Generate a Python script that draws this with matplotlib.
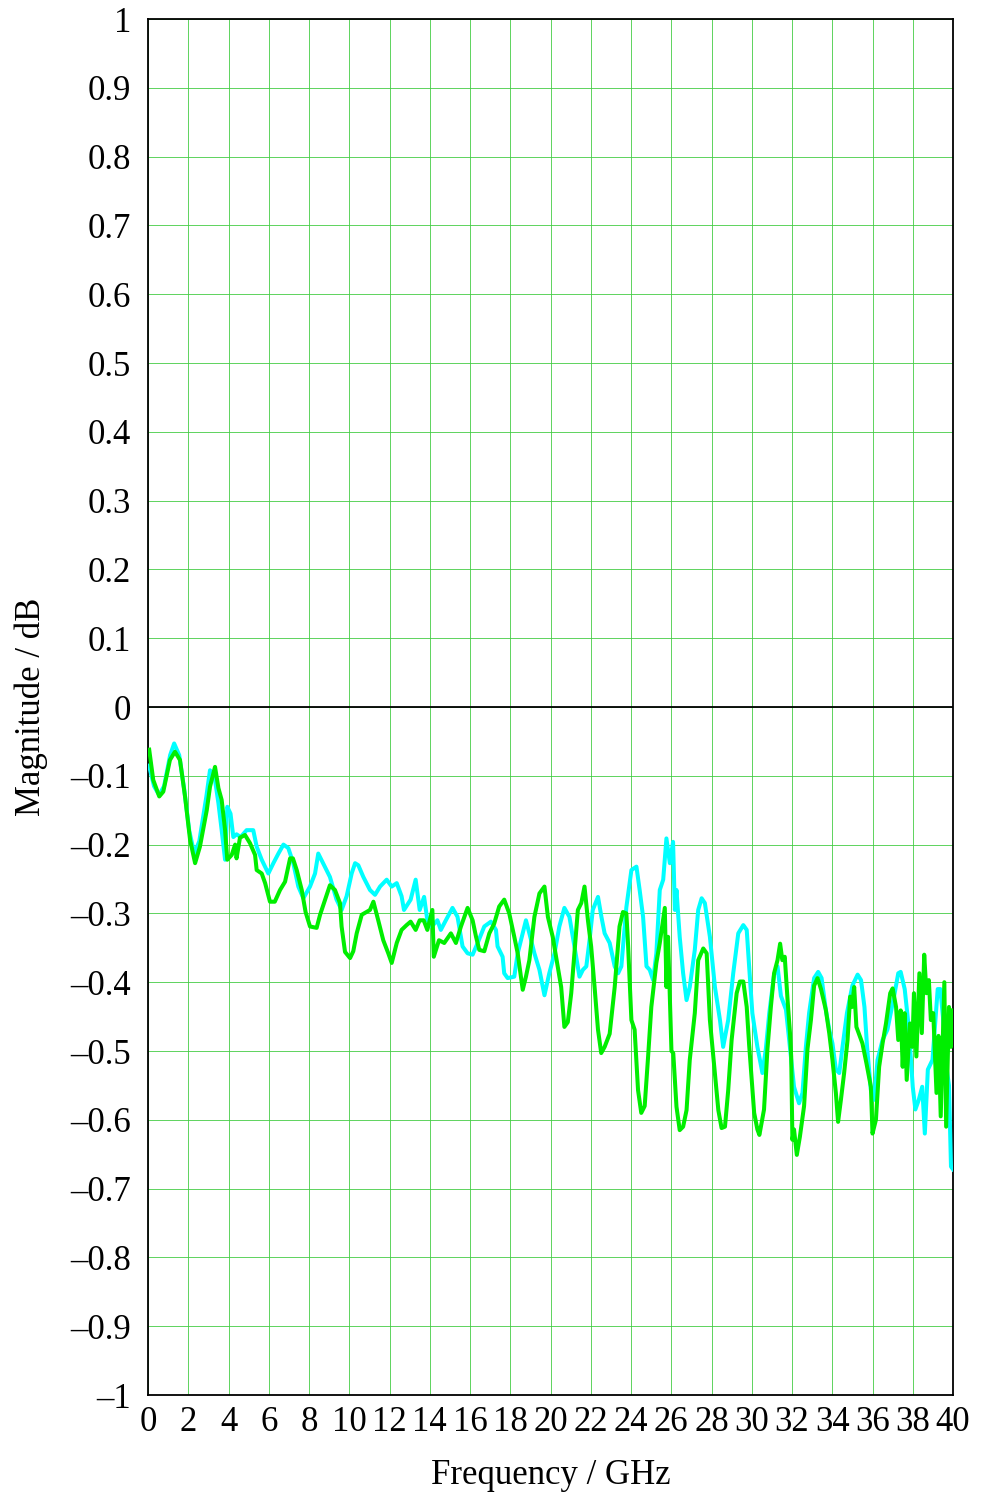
import matplotlib
matplotlib.use("Agg")
import matplotlib.pyplot as plt
import numpy as np

plt.rcParams['font.family'] = ['Liberation Serif', 'DejaVu Serif']

# ---- data ----
cyan_freq = [0.05, 0.3, 0.55, 0.8, 1.1, 1.3, 1.55, 1.8, 2.05, 2.3, 2.55, 2.9, 3.08, 3.3, 3.5, 3.66, 3.83,
             3.94, 4.1, 4.24, 4.4, 4.6, 4.9, 5.23, 5.4, 5.65, 5.98, 6.23, 6.48, 6.73, 6.97, 7.22, 7.47,
             7.72, 8.05, 8.3, 8.46, 8.7, 9.04, 9.37, 9.62, 9.87, 10.12, 10.29, 10.45, 10.7, 11.03, 11.28,
             11.53, 11.86, 12.11, 12.36, 12.6, 12.72, 13.05, 13.3, 13.5, 13.72, 13.88, 14.1, 14.38, 14.55,
             14.8, 15.13, 15.38, 15.63, 15.88, 16.13, 16.38, 16.71, 17.04, 17.29, 17.37, 17.62, 17.7, 17.87,
             18.2, 18.37, 18.62, 18.78, 18.95, 19.2, 19.45, 19.7, 19.94, 20.2, 20.44, 20.69, 20.94, 21.19,
             21.44, 21.61, 21.78, 21.94, 22.1, 22.36, 22.53, 22.69, 22.94, 23.19, 23.36, 23.52, 23.77,
             24.02, 24.27, 24.43, 24.6, 24.77, 24.93, 25.1, 25.26, 25.43, 25.6, 25.76, 25.93, 26.09, 26.18,
             26.26, 26.42, 26.59, 26.76, 26.92, 27.17, 27.34, 27.51, 27.67, 27.92, 28.17, 28.42, 28.58,
             28.83, 29.08, 29.33, 29.58, 29.75, 29.87, 30.03, 30.28, 30.53, 30.7, 30.87, 31.11, 31.28,
             31.45, 31.7, 31.86, 32.1, 32.35, 32.52, 32.69, 32.85, 33.1, 33.3, 33.47, 33.68, 33.85, 34.01,
             34.18, 34.35, 34.51, 34.73, 35.0, 35.26, 35.43, 35.6, 35.73, 35.92, 36.08, 36.25, 36.5, 36.74,
             37.07, 37.28, 37.4, 37.6, 37.8, 38.0, 38.13, 38.3, 38.47, 38.6, 38.75, 38.98, 39.24, 39.37,
             39.5, 39.66, 39.8, 39.9, 40.0]
cyan_vals = [-0.085, -0.115, -0.128, -0.115, -0.07, -0.053, -0.07, -0.12, -0.18, -0.213, -0.195, -0.13, -0.092,
             -0.1, -0.14, -0.179, -0.222, -0.145, -0.155, -0.189, -0.185, -0.189, -0.179, -0.179, -0.203,
             -0.222, -0.242, -0.227, -0.213, -0.2, -0.205, -0.227, -0.261, -0.278, -0.261, -0.242, -0.213,
             -0.227, -0.247, -0.28, -0.295, -0.275, -0.242, -0.227, -0.23, -0.247, -0.266, -0.273, -0.261,
             -0.251, -0.261, -0.256, -0.275, -0.295, -0.28, -0.251, -0.295, -0.276, -0.31, -0.319, -0.31,
             -0.324, -0.31, -0.292, -0.305, -0.348, -0.358, -0.36, -0.343, -0.319, -0.312, -0.324, -0.348,
             -0.363, -0.387, -0.394, -0.392, -0.358, -0.329, -0.31, -0.329, -0.358, -0.382, -0.419, -0.387,
             -0.358, -0.319, -0.292, -0.305, -0.348, -0.392, -0.382, -0.377, -0.339, -0.295, -0.276, -0.305,
             -0.329, -0.343, -0.377, -0.387, -0.377, -0.291, -0.237, -0.232, -0.266, -0.305, -0.377, -0.382,
             -0.397, -0.358, -0.266, -0.251, -0.191, -0.227, -0.196, -0.295, -0.266, -0.334, -0.387, -0.426,
             -0.407, -0.353, -0.295, -0.278, -0.285, -0.334, -0.407, -0.455, -0.494, -0.455, -0.387, -0.329,
             -0.317, -0.324, -0.377, -0.445, -0.494, -0.532, -0.497, -0.445, -0.389, -0.377, -0.42, -0.44,
             -0.484, -0.552, -0.576, -0.561, -0.494, -0.445, -0.394, -0.385, -0.394, -0.44, -0.469, -0.489,
             -0.527, -0.532, -0.494, -0.445, -0.405, -0.389, -0.397, -0.436, -0.494, -0.557, -0.571, -0.513,
             -0.484, -0.469, -0.421, -0.387, -0.385, -0.41, -0.465, -0.552, -0.585, -0.571, -0.552, -0.62,
             -0.527, -0.513, -0.41, -0.41, -0.45, -0.52, -0.55, -0.668, -0.672]

green_freq = [0.06, 0.26, 0.56, 0.76, 1.09, 1.34, 1.59, 1.84, 2.09, 2.34, 2.58, 2.92, 3.08, 3.33, 3.5, 3.66,
              3.83, 3.94, 4.16, 4.33, 4.4, 4.57, 4.82, 5.07, 5.32, 5.4, 5.65, 5.82, 6.06, 6.3, 6.56, 6.81,
              7.06, 7.2, 7.39, 7.64, 7.83, 8.05, 8.38, 8.55, 8.8, 9.04, 9.29, 9.54, 9.62, 9.79, 10.04, 10.2,
              10.37, 10.62, 11.03, 11.2, 11.44, 11.69, 11.94, 12.11, 12.36, 12.6, 12.85, 13.05, 13.3, 13.5,
              13.7, 13.88, 14.13, 14.2, 14.46, 14.72, 15.05, 15.3, 15.55, 15.88, 16.13, 16.3, 16.46, 16.71,
              16.96, 17.2, 17.45, 17.7, 17.95, 18.2, 18.37, 18.53, 18.62, 18.78, 18.95, 19.2, 19.45, 19.7,
              19.87, 20.11, 20.36, 20.53, 20.69, 20.86, 21.03, 21.19, 21.36, 21.53, 21.69, 21.86, 22.02,
              22.19, 22.36, 22.52, 22.69, 22.94, 23.19, 23.43, 23.6, 23.77, 23.85, 24.02, 24.18, 24.35,
              24.51, 24.68, 24.85, 25.01, 25.26, 25.43, 25.68, 25.76, 25.84, 26.01, 26.1, 26.26, 26.42,
              26.59, 26.76, 26.92, 27.17, 27.34, 27.59, 27.76, 27.92, 28.17, 28.34, 28.5, 28.67, 28.83,
              29.0, 29.25, 29.41, 29.58, 29.75, 29.87, 30.12, 30.28, 30.38, 30.61, 30.78, 30.95, 31.11,
              31.28, 31.41, 31.52, 31.64, 31.78, 31.9, 31.96, 32.02, 32.1, 32.24, 32.39, 32.6, 32.77, 32.94,
              33.1, 33.27, 33.44, 33.68, 33.85, 34.01, 34.18, 34.29, 34.43, 34.59, 34.76, 34.89, 34.98,
              35.09, 35.2, 35.5, 35.7, 35.92, 36.0, 36.17, 36.33, 36.5, 36.67, 36.88, 37.0, 37.17, 37.28,
              37.4, 37.5, 37.6, 37.7, 37.86, 37.98, 38.06, 38.18, 38.33, 38.45, 38.57, 38.68, 38.8, 38.9,
              39.02, 39.18, 39.28, 39.39, 39.57, 39.66, 39.8, 39.9, 40.0]
green_vals = [-0.062, -0.106, -0.13, -0.123, -0.077, -0.065, -0.077, -0.13, -0.193, -0.227, -0.203, -0.15,
              -0.116, -0.087, -0.118, -0.135, -0.179, -0.222, -0.215, -0.2, -0.22, -0.19, -0.186, -0.198,
              -0.215, -0.237, -0.242, -0.256, -0.283, -0.283, -0.266, -0.254, -0.22, -0.22, -0.237, -0.266,
              -0.298, -0.319, -0.321, -0.302, -0.28, -0.259, -0.266, -0.285, -0.319, -0.356, -0.365, -0.355,
              -0.329, -0.302, -0.295, -0.283, -0.31, -0.339, -0.358, -0.372, -0.343, -0.324, -0.317, -0.312,
              -0.324, -0.31, -0.31, -0.324, -0.295, -0.363, -0.339, -0.343, -0.329, -0.343, -0.319, -0.292,
              -0.31, -0.334, -0.353, -0.355, -0.329, -0.315, -0.29, -0.28, -0.3, -0.334, -0.358, -0.392,
              -0.411, -0.392, -0.368, -0.305, -0.271, -0.261, -0.305, -0.334, -0.377, -0.407, -0.465, -0.458,
              -0.416, -0.358, -0.295, -0.285, -0.261, -0.31, -0.348, -0.407, -0.469, -0.503, -0.494, -0.475,
              -0.407, -0.319, -0.298, -0.3, -0.343, -0.455, -0.469, -0.557, -0.59, -0.58, -0.508, -0.436,
              -0.372, -0.343, -0.292, -0.407, -0.334, -0.5, -0.503, -0.581, -0.615, -0.61, -0.586, -0.513,
              -0.445, -0.368, -0.351, -0.358, -0.455, -0.532, -0.586, -0.612, -0.61, -0.557, -0.484, -0.416,
              -0.399, -0.399, -0.436, -0.491, -0.59, -0.614, -0.622, -0.585, -0.497, -0.436, -0.387, -0.368,
              -0.344, -0.368, -0.363, -0.426, -0.474, -0.508, -0.629, -0.614, -0.651, -0.625, -0.58, -0.497,
              -0.455, -0.405, -0.394, -0.41, -0.44, -0.474, -0.513, -0.561, -0.603, -0.571, -0.532, -0.484,
              -0.421, -0.436, -0.407, -0.465, -0.489, -0.518, -0.552, -0.62, -0.6, -0.523, -0.489, -0.46,
              -0.416, -0.409, -0.436, -0.484, -0.441, -0.523, -0.445, -0.542, -0.46, -0.494, -0.416, -0.508,
              -0.387, -0.474, -0.36, -0.416, -0.397, -0.455, -0.445, -0.561, -0.478, -0.595, -0.4, -0.61,
              -0.436, -0.494, -0.441]

x_ticks = list(range(0, 41, 2))
y_ticks = [round(v, 1) + 0.0 for v in np.arange(-1.0, 1.01, 0.1)]


def fmt_y(v):
    if abs(v) < 1e-9:
        return "0"
    if v < 0:
        return "\u2013" + f"{abs(v):g}"
    return f"{v:g}"


y_tick_labels = [fmt_y(v) for v in y_ticks]

# ---- figure ----
fig = plt.figure(figsize=(9.88, 14.97), dpi=100)
ax = fig.add_axes([148 / 988, 1 - 1395 / 1497, (953 - 148) / 988, (1395 - 19) / 1497])

ax.plot(cyan_freq, cyan_vals, color='#00ffff', linewidth=2.9, zorder=3)
ax.plot(green_freq, green_vals, color='#00ee00', linewidth=2.9, zorder=4)
ax.axhline(0, color='black', linewidth=1.3, zorder=5)

ax.set_xlim(0, 40)
ax.set_ylim(-1, 1)
ax.set_xticks(x_ticks)
ax.set_xticklabels([str(t) for t in x_ticks])
ax.set_yticks(y_ticks)
ax.set_yticklabels(y_tick_labels)
ax.grid(True, color='#44cc44', linewidth=0.6, zorder=1)
ax.set_axisbelow(True)
ax.tick_params(axis='both', length=0, labelsize=25)
ax.tick_params(axis='y', pad=12)
ax.tick_params(axis='x', pad=8)
for s in ax.spines.values():
    s.set_linewidth(1.3)
    s.set_color('black')

ax.set_xlabel('Frequency / GHz', fontsize=25, labelpad=14)
ax.set_ylabel('Magnitude / dB', fontsize=25, labelpad=16)

fig.savefig('out.png', dpi=100)
